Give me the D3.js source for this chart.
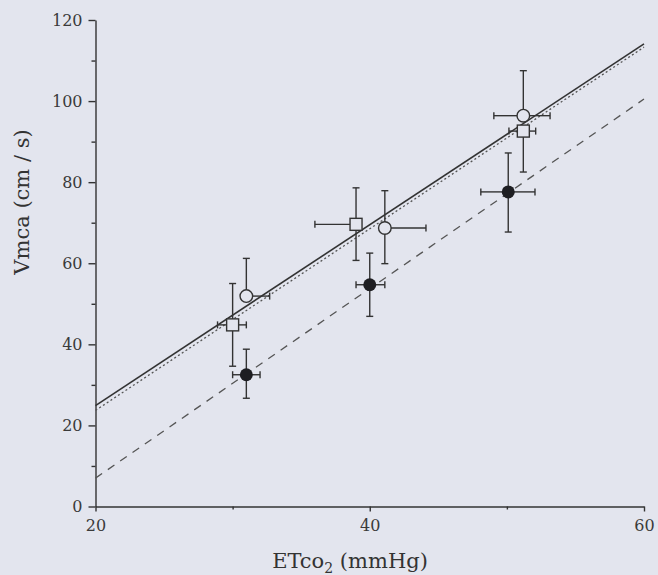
<!DOCTYPE html>
<html>
<head>
<meta charset="utf-8">
<script src="https://cdn.jsdelivr.net/npm/d3@7.9.0/dist/d3.min.js"></script>
<style>
  html, body { margin: 0; padding: 0; background: #e3e5ee; }
  svg { display: block; }
  .tick text { font-family: "DejaVu Serif", serif; font-size: 16px; fill: #3a3a3a; }
  .title { font-family: "DejaVu Serif", serif; font-size: 21px; fill: #333; }
</style>
</head>
<body>
<svg id="chart" width="658" height="575"></svg>
<script>
// x = ETco2 (mmHg), y = Vmca (cm/s)
const xTicks = [20, 40, 60];
const xMinor = [30, 50];
const yTicks = [0, 20, 40, 60, 80, 100, 120];
const yMinor = [10, 30, 50, 70, 90, 110];

// open circles
const openCircleX = [31.0, 41.1, 51.2];
const openCircleY = [51.9, 68.7, 96.4];
const openCircleYUp = [9.3, 9.2, 11.1];
const openCircleYDown = [0, 8.8, 0];
const openCircleXLeft = [0, 0, 2.15];
const openCircleXRight = [1.7, 3.0, 1.95];

// open squares
const squareX = [30.0, 39.0, 51.2];
const squareY = [44.8, 69.6, 92.6];
const squareYUp = [10.2, 9.0, 0];
const squareYDown = [10.2, 8.9, 10.1];
const squareXLeft = [1.1, 3.0, 1.05];
const squareXRight = [1.0, 0, 0.9];

// filled circles
const filledX = [31.0, 40.0, 50.1];
const filledY = [32.5, 54.7, 77.6];
const filledYUp = [6.3, 7.8, 9.6];
const filledYDown = [5.8, 7.8, 9.9];
const filledXLeft = [1.0, 1.0, 2.0];
const filledXRight = [1.0, 1.1, 1.95];

// regression lines, [x, y] at both ends
const solidLine = [[20, 24.9], [60, 114.1]];
const dottedLine = [[20, 23.7], [60, 113.3]];
const dashedLine = [[20, 7.0], [60, 100.5]];

const svg = d3.select("#chart");
const plotLeft = 95.5, plotRight = 644, plotTop = 20, plotBottom = 506.5;

const x = d3.scaleLinear().domain([20, 60]).range([plotLeft, plotRight]);
const y = d3.scaleLinear().domain([0, 120]).range([plotBottom, plotTop]);

const ink = "#333";
const paper = "#e3e5ee";

// axes
svg.append("g")
    .attr("transform", `translate(${plotLeft},0)`)
    .call(d3.axisLeft(y).tickValues(yTicks).tickSize(7).tickSizeOuter(0).tickPadding(6));
svg.append("g")
    .attr("transform", `translate(${plotLeft},0)`)
    .call(d3.axisLeft(y).tickValues(yMinor).tickSize(4).tickSizeOuter(0).tickFormat(""))
    .select(".domain").remove();

svg.append("g")
    .attr("transform", `translate(0,${plotBottom})`)
    .call(d3.axisBottom(x).tickValues(xTicks).tickSize(5).tickSizeOuter(0).tickPadding(8));
svg.append("g")
    .attr("transform", `translate(0,${plotBottom})`)
    .call(d3.axisBottom(x).tickValues(xMinor).tickSize(3).tickSizeOuter(0).tickFormat(""))
    .select(".domain").remove();

svg.selectAll(".domain, .tick line").attr("stroke", ink).attr("stroke-width", 1.4);

// regression lines
const line = d3.line().x(d => x(d[0])).y(d => y(d[1]));
svg.append("path").attr("d", line(dottedLine))
    .attr("fill", "none").attr("stroke", "#555").attr("stroke-width", 1.3)
    .attr("stroke-dasharray", "2,2.5");
svg.append("path").attr("d", line(solidLine))
    .attr("fill", "none").attr("stroke", ink).attr("stroke-width", 1.6);
svg.append("path").attr("d", line(dashedLine))
    .attr("fill", "none").attr("stroke", "#555").attr("stroke-width", 1.3)
    .attr("stroke-dasharray", "8,7");

// error bars + markers
function drawGroup(xs, ys, up, down, lft, rgt, shape) {
    const cap = 3.5;
    const g = svg.append("g").attr("stroke", ink).attr("stroke-width", 1.4);
    xs.forEach((xv, i) => {
        const cx = x(xv), cy = y(ys[i]);
        if (up[i] > 0) {
            const t = y(ys[i] + up[i]);
            g.append("line").attr("x1", cx).attr("x2", cx).attr("y1", cy).attr("y2", t);
            g.append("line").attr("x1", cx - cap).attr("x2", cx + cap).attr("y1", t).attr("y2", t);
        }
        if (down[i] > 0) {
            const b = y(ys[i] - down[i]);
            g.append("line").attr("x1", cx).attr("x2", cx).attr("y1", cy).attr("y2", b);
            g.append("line").attr("x1", cx - cap).attr("x2", cx + cap).attr("y1", b).attr("y2", b);
        }
        if (lft[i] > 0) {
            const l = x(xv - lft[i]);
            g.append("line").attr("x1", cx).attr("x2", l).attr("y1", cy).attr("y2", cy);
            g.append("line").attr("x1", l).attr("x2", l).attr("y1", cy - cap).attr("y2", cy + cap);
        }
        if (rgt[i] > 0) {
            const r = x(xv + rgt[i]);
            g.append("line").attr("x1", cx).attr("x2", r).attr("y1", cy).attr("y2", cy);
            g.append("line").attr("x1", r).attr("x2", r).attr("y1", cy - cap).attr("y2", cy + cap);
        }
    });
    const m = svg.append("g");
    xs.forEach((xv, i) => {
        const cx = x(xv), cy = y(ys[i]);
        if (shape === "square") {
            m.append("rect").attr("x", cx - 6).attr("y", cy - 6).attr("width", 12).attr("height", 12)
                .attr("fill", paper).attr("stroke", ink).attr("stroke-width", 1.4);
        } else if (shape === "open") {
            m.append("circle").attr("cx", cx).attr("cy", cy).attr("r", 6.3)
                .attr("fill", paper).attr("stroke", ink).attr("stroke-width", 1.4);
        } else {
            m.append("circle").attr("cx", cx).attr("cy", cy).attr("r", 6.5)
                .attr("fill", "#1e1e22");
        }
    });
}

drawGroup(filledX, filledY, filledYUp, filledYDown, filledXLeft, filledXRight, "filled");
drawGroup(squareX, squareY, squareYUp, squareYDown, squareXLeft, squareXRight, "square");
drawGroup(openCircleX, openCircleY, openCircleYUp, openCircleYDown, openCircleXLeft, openCircleXRight, "open");

// titles
const xTitle = svg.append("text").attr("class", "title")
    .attr("x", 350).attr("y", 568).attr("text-anchor", "middle");
xTitle.append("tspan").text("ETco");
xTitle.append("tspan").attr("font-size", 14).attr("dy", 5).text("2");
xTitle.append("tspan").attr("dy", -5).text(" (mmHg)");

svg.append("text").attr("class", "title")
    .attr("transform", "translate(29,202) rotate(-90)")
    .attr("text-anchor", "middle")
    .text("Vmca (cm / s)");
</script>
</body>
</html>
